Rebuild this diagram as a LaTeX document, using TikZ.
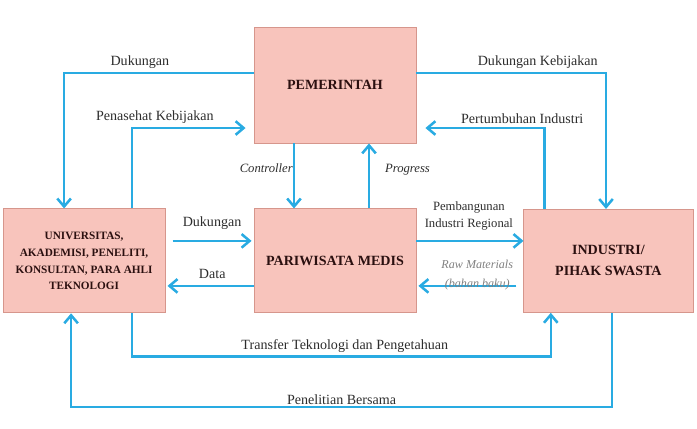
\documentclass[tikz,border=0pt]{standalone}
\usepackage{fontspec}
\setmainfont{Liberation Serif}
\usetikzlibrary{positioning,arrows.meta}

\definecolor{boxfill}{RGB}{248,196,188}
\definecolor{boxline}{RGB}{214,150,140}
\definecolor{flowblue}{RGB}{41,171,226}
\definecolor{boxtext}{RGB}{43,16,16}
\definecolor{lbltext}{RGB}{45,45,45}

\begin{document}
\begin{tikzpicture}[x=0.025cm, y=-0.025cm,
	 box/.style={rectangle, draw=boxline, fill=boxfill, line width=0.6pt,
	   text=boxtext, font=\bfseries, align=center},
	 flow/.style={draw=flowblue, line width=1.8pt,
	   -{Straight Barb[length=2mm,width=3.4mm,line width=1.8pt]}},
	 lbl/.style={text=lbltext, font=\fontsize{10}{12}\selectfont, inner sep=2pt},
	 ilbl/.style={lbl, font=\fontsize{9}{11}\selectfont\itshape}]

	 \useasboundingbox (0,0) rectangle (697,428);

	 % the four actors
	 \node [box, minimum width=4.05cm, minimum height=2.9cm] (pem) at (335,85) {PEMERINTAH};
	 \node [box, minimum width=4.05cm, minimum height=2.6cm, below=1.625cm of pem] (pari) {PARIWISATA MEDIS};
	 \node [box, minimum width=4.05cm, minimum height=2.6cm, left=2.2cm of pari,
	   font=\bfseries\fontsize{8}{12}\selectfont] (univ)
	   {UNIVERSITAS,\\AKADEMISI, PENELITI,\\KONSULTAN, PARA AHLI\\TEKNOLOGI};
	 \node [box, minimum width=4.225cm, minimum height=2.575cm, right=2.675cm of pari,
	   font=\bfseries\fontsize{10}{15}\selectfont] (ind) {INDUSTRI/\\PIHAK SWASTA};

	 % government links
	 \draw [flow] ([yshift=0.3cm]pem.west) -| node [lbl, above, pos=0.3] (dkg1) {Dukungan}
	   ([xshift=-0.5cm]univ.north);
	 \draw [flow] ([xshift=1.2cm]univ.north) |- node [lbl, above, pos=0.6] (pnk) {Penasehat Kebijakan}
	   ([xshift=-0.2cm,yshift=-1.075cm]pem.west);
	 \draw [flow] ([xshift=-1.025cm]pem.south) -- node [ilbl, left, pos=0.38, inner sep=0pt] (ctl) {Controller}
	   ([xshift=-1.025cm]pari.north);
	 \draw [flow] ([xshift=0.85cm]pari.north) -- node [ilbl, right=0.3cm, pos=0.6] (prg) {Progress}
	   ([xshift=0.85cm]pem.south);
	 \draw [flow] ([yshift=0.3cm]pem.east) -| node [lbl, above, pos=0.32] (dkb) {Dukungan Kebijakan}
	   ([xshift=-0.06cm]ind.north);
	 \draw [flow] ([xshift=-1.6cm]ind.north) |- node [lbl, above, pos=0.593] (pti) {Pertumbuhan Industri}
	   ([xshift=0.225cm,yshift=-1.075cm]pem.east);

	 % middle row
	 \draw [flow] ([xshift=0.175cm,yshift=0.5cm]univ.east) -- node [lbl, above, yshift=5pt] (dkg2) {Dukungan}
	   ([xshift=-0.05cm,yshift=0.5cm]pari.west);
	 \draw [flow] ([yshift=-0.625cm]pari.west) -- node [lbl, above, pos=0.48, yshift=2pt] (dat) {Data}
	   ([xshift=0.05cm,yshift=-0.625cm]univ.east);
	 \draw [flow] ([yshift=0.5cm]pari.east) -- node [lbl, above, pos=0.49, yshift=5pt, align=center,
	   font=\fontsize{9}{12}\selectfont] (pir) {Pembangunan\\Industri Regional}
	   ([yshift=0.5cm]ind.west);
	 \draw [flow] ([xshift=-0.175cm,yshift=-0.625cm]ind.west) -- node [ilbl, anchor=south, pos=0.4,
	   yshift=-0.2cm, align=center, text=gray, font=\fontsize{8.6}{13}\selectfont\itshape] (raw)
	   {Raw Materials\\(bahan baku)}
	   ([xshift=0.05cm,yshift=-0.625cm]pari.east);

	 % bottom loops
	 \draw [flow] ([xshift=1.2cm]univ.south) -- ++(0,-1.075cm)
	   -| node [lbl, above, pos=0.254] (ttp) {Transfer Teknologi dan Pengetahuan}
	   ([xshift=-1.44cm]ind.south);
	 \draw [flow] ([xshift=0.09cm]ind.south) -- ++(0,-2.35cm)
	   -| node [lbl, above, pos=0.25, inner sep=1pt] (plb) {Penelitian Bersama}
	   ([xshift=-0.325cm]univ.south);

\end{tikzpicture}
\end{document}
